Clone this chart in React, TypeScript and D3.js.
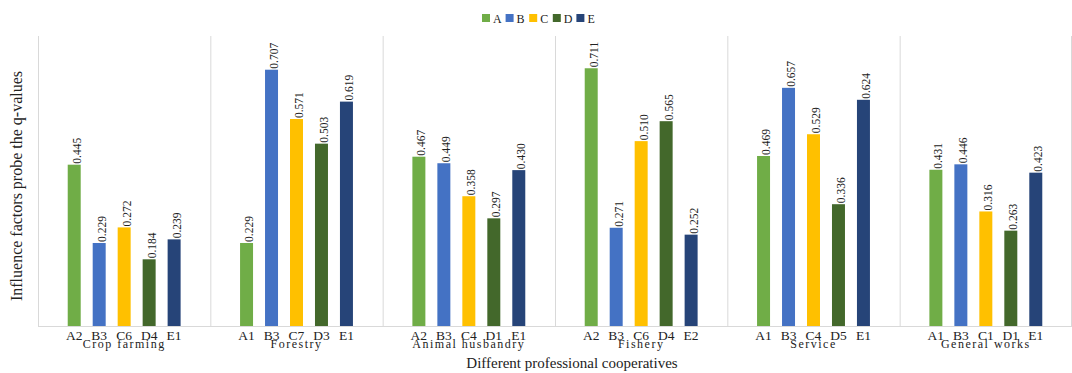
import React from 'react';
import * as d3 from 'd3';

// chart data
const groups = ['Crop farming', 'Forestry', 'Animal husbandry', 'Fishery', 'Service', 'General works'];
const series = ['A', 'B', 'C', 'D', 'E'];
const colors = ['#70AD47', '#4472C4', '#FFC000', '#43682B', '#264478'];

const factorA = ['A2', 'A1', 'A2', 'A2', 'A1', 'A1'];
const factorB = ['B3', 'B3', 'B3', 'B3', 'B3', 'B3'];
const factorC = ['C6', 'C7', 'C4', 'C6', 'C4', 'C1'];
const factorD = ['D4', 'D3', 'D1', 'D4', 'D5', 'D1'];
const factorE = ['E1', 'E1', 'E1', 'E2', 'E1', 'E1'];

const valuesA = [0.445, 0.229, 0.467, 0.711, 0.469, 0.431];
const valuesB = [0.229, 0.707, 0.449, 0.271, 0.657, 0.446];
const valuesC = [0.272, 0.571, 0.358, 0.510, 0.529, 0.316];
const valuesD = [0.184, 0.503, 0.297, 0.565, 0.336, 0.263];
const valuesE = [0.239, 0.619, 0.430, 0.252, 0.624, 0.423];

const factorLists = [factorA, factorB, factorC, factorD, factorE];
const valueLists = [valuesA, valuesB, valuesC, valuesD, valuesE];

const W = 1072;
const H = 373;
const left = 38;
const right = 1072;
const top = 36;
const bottom = 326;
const font = '"Liberation Serif", "Times New Roman", serif';
const ink = '#222';

export default function App() {
  const x = d3.scaleBand<string>().domain(groups).range([left, right]);
  const inner = d3
    .scaleBand<string>()
    .domain(series)
    .range([0, x.bandwidth()])
    .paddingInner(0.48)
    .paddingOuter(1.19);
  const y = d3.scaleLinear().domain([0, 0.8]).range([bottom, top]);

  const legendX = 482;
  const legendStep = 23.6;

  return (
    <svg width={W} height={H} style={{ position: 'absolute', left: 0, top: 0, background: '#fff' }}>
      {/* legend */}
      {series.map((s, i) => (
        <g key={s} transform={`translate(${legendX + i * legendStep},14)`}>
          <rect width={8} height={8} fill={colors[i]} />
          <text x={11} y={8.5} fontFamily={font} fontSize={12} fill={ink}>{s}</text>
        </g>
      ))}

      {/* frame lines */}
      <line x1={left} x2={right} y1={bottom + 0.5} y2={bottom + 0.5} stroke="#d9d9d9" />
      {groups.map(g => (
        <line key={g} x1={x(g)! + 0.5} x2={x(g)! + 0.5} y1={top} y2={bottom} stroke="#d9d9d9" />
      ))}
      <line x1={right - 0.5} x2={right - 0.5} y1={top} y2={bottom} stroke="#d9d9d9" />

      {/* bars */}
      {groups.map((g, gi) => (
        <g key={g} transform={`translate(${x(g)},0)`}>
          {series.map((s, si) => {
            const v = valueLists[si][gi];
            const bx = inner(s)!;
            const bw = inner.bandwidth();
            return (
              <g key={s}>
                <rect x={bx} y={y(v)} width={bw} height={bottom - y(v)} fill={colors[si]} />
                <text
                  transform={`translate(${bx + bw},${y(v) - 1}) rotate(-90)`}
                  fontFamily={font}
                  fontSize={11.5}
                  fill={ink}
                >
                  {d3.format('.3f')(v)}
                </text>
                <text
                  x={bx + bw / 2}
                  y={340}
                  textAnchor="middle"
                  fontFamily={font}
                  fontSize={13.5}
                  fill={ink}
                >
                  {factorLists[si][gi]}
                </text>
              </g>
            );
          })}
          <text
            x={x.bandwidth() / 2}
            y={347.5}
            textAnchor="middle"
            fontFamily={font}
            fontSize={12}
            letterSpacing={1.5}
            fill={ink}
          >
            {g}
          </text>
        </g>
      ))}

      {/* axis titles */}
      <text x={572} y={368} textAnchor="middle" fontFamily={font} fontSize={15} fill={ink}>
        Different professional cooperatives
      </text>
      <text
        transform={`translate(22,186) rotate(-90)`}
        textAnchor="middle"
        fontFamily={font}
        fontSize={16}
        fill={ink}
      >
        Influence factors probe the q-values
      </text>
    </svg>
  );
}
